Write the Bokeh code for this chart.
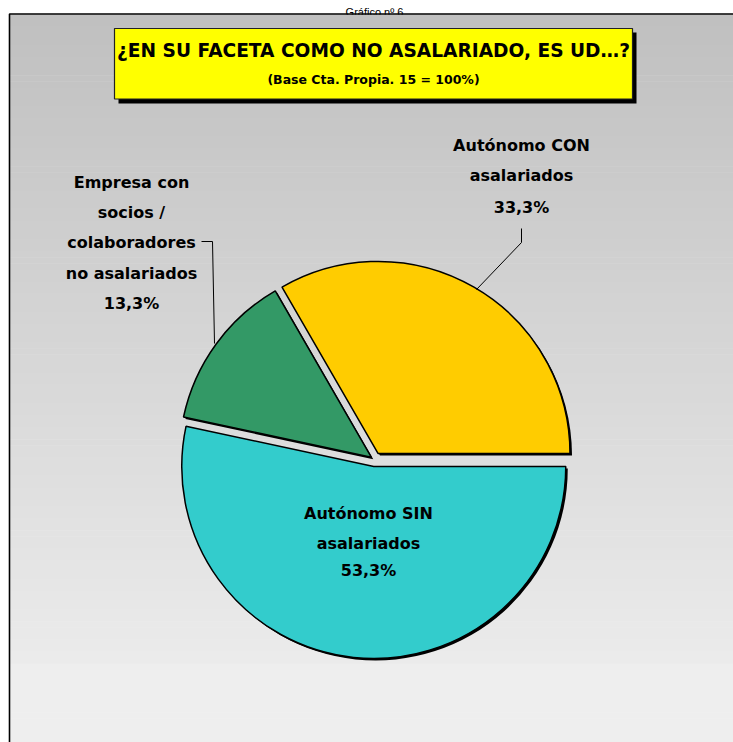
import numpy as np
from bokeh.plotting import figure
from bokeh.models import Range1d
from bokeh.core.properties import value
from bokeh.embed import file_html
from bokeh.resources import INLINE

# ---------------- data ----------------
categories = ["Autónomo CON asalariados",
              "Empresa con socios / colaboradores no asalariados",
              "Autónomo SIN asalariados"]
percent = [33.3, 13.3, 53.3]
pct_labels = ["33,3%", "13,3%", "53,3%"]
colors = ["#FFCC00", "#339966", "#33CCCC"]
label_lines = [["Autónomo CON", "asalariados"],
               ["Empresa con", "socios /", "colaboradores", "no asalariados"],
               ["Autónomo SIN", "asalariados"]]
title = "¿EN SU FACETA COMO NO ASALARIADO, ES UD…?"
subtitle = "(Base Cta. Propia. 15 = 100%)"
caption = "Gráfico nº 6"

# ---------------- layout ----------------
W, H = 733, 742


def Y(sy):
    """screen y -> data y"""
    return H - sy


FONT = value("DejaVu Sans")

p = figure(width=W, height=H, x_range=Range1d(0, W), y_range=Range1d(0, H),
           output_backend="svg", toolbar_location=None, min_border=0)
p.axis.visible = False
p.grid.visible = False
p.outline_line_color = None
p.background_fill_color = "white"
p.border_fill_color = "white"

# caption (small, fits in the white strip above the chart area)
p.text(x=[374], y=[Y(11.5)], text=[caption], text_font=value("Liberation Sans"),
       text_font_size="11px", text_align="center", text_baseline="alphabetic",
       text_color="black")

# gradient chart area
n = 120
y0, y1 = 14, H
edges = np.linspace(y0, y1, n + 1)
tops = edges[:-1]
bots = edges[1:]
mid = (tops + bots) / 2
g = np.clip(192 + (236 - 192) * (mid - 14) / (666 - 14), 0, 236)
g = np.where(mid > 666, 238, g)
cols = ["#%02x%02x%02x" % (int(v), int(v), int(v)) for v in g]
p.quad(left=9, right=W, top=[Y(t) for t in tops], bottom=[Y(b) - 0.6 for b in bots],
       fill_color=cols, line_color=None)
# chart border (left/top)
p.line([9, 9, W + 5], [Y(H), Y(13.5), Y(13.5)], line_color="black", line_width=1.6)

# title box
p.quad(left=118, right=636, top=Y(32), bottom=Y(103), fill_color="black", line_color=None)
p.quad(left=114, right=632, top=Y(28), bottom=Y(98.5), fill_color="#FFFF00",
       line_color="#222222", line_width=1.2)
p.text(x=[373], y=[Y(50)], text=[title], text_font=FONT, text_font_style="bold",
       text_font_size="18.6px", text_align="center", text_baseline="middle", text_color="black")
p.text(x=[373], y=[Y(79)], text=[subtitle], text_font=FONT, text_font_style="bold",
       text_font_size="12.5px", text_align="center", text_baseline="middle", text_color="black")

# pie
total = sum(percent)
angles = np.cumsum([0] + [v / total * 2 * np.pi for v in percent])
starts = angles[:-1]
ends = angles[1:]
mids = (starts + ends) / 2
cx, cy = 374, 459
explode = [7, 4, 7]
R = 192
xs = [cx + e * np.cos(m) for e, m in zip(explode, mids)]
ys = [Y(cy) + e * np.sin(m) for e, m in zip(explode, mids)]

p.wedge(x=[x + 2 for x in xs], y=[y - 2 for y in ys], radius=R, start_angle=starts,
        end_angle=ends, fill_color="black", line_color=None)
p.wedge(x=xs, y=ys, radius=R, start_angle=starts, end_angle=ends,
        fill_color=colors, line_color="black", line_width=1.5)

# labels
label_pos = [(521, [145, 175, 207]),
             (131, [182, 212, 242, 273, 303]),
             (368, [513, 543, 570])]
tx, ty, tt = [], [], []
for lines, pct, (lx, lys) in zip(label_lines, pct_labels, label_pos):
    for t, ly in zip(lines + [pct], lys):
        tx.append(lx)
        ty.append(Y(ly))
        tt.append(t)
p.text(x=tx, y=ty, text=tt, text_font=FONT, text_font_style="bold", text_font_size="16px",
       text_align="center", text_baseline="middle", text_color="black")

# leader lines
p.line([201, 212, 214], [Y(241), Y(241), Y(343)], line_color="black", line_width=1)
p.line([521, 521, 476], [Y(228), Y(242), Y(289)], line_color="black", line_width=1)

open("out.html", "w").write(file_html(p, INLINE))
